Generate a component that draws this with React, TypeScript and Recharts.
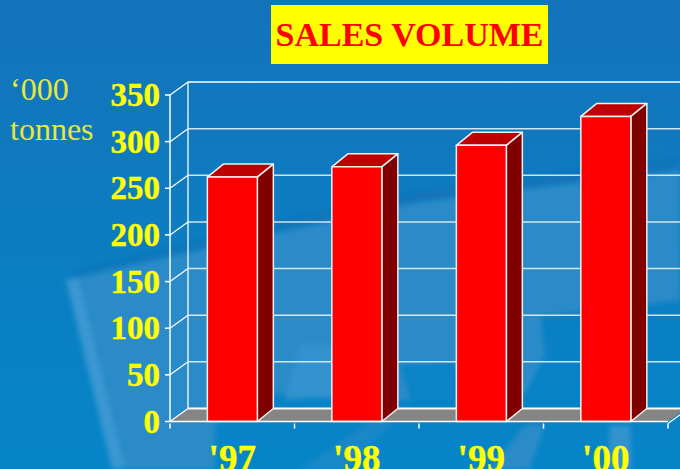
import { BarChart, Bar, XAxis, YAxis, CartesianGrid } from 'recharts';

const years = ["'97", "'98", "'99", "'00"];
const salesVolume = [262, 273, 296, 327];
const yTicks = [0, 50, 100, 150, 200, 250, 300, 350];

const data = years.map((year, i) => ({ year, sales: salesVolume[i] }));

// offset of the back wall from the front plane
const WALL_DX = 18;
const WALL_DY = -13;
// bars are a little less deep than the wall
const BAR_DX = 16;
const BAR_DY = -13;

const PLOT_LEFT = 170;
const PLOT_RIGHT = 668;
const PLOT_TOP = 95;
const PLOT_BOTTOM = 421.5;
const CATEGORY_STEP = (PLOT_RIGHT - PLOT_LEFT) / years.length;
const SERIF = '"Liberation Serif", serif';

function Box3D(props: any) {
  const { x, y, width, height } = props;
  const r = x + width;
  const b = y + height;
  return (
    <g stroke="#f0f0f0" strokeWidth={1.5} strokeLinejoin="round">
      <polygon points={`${x},${y} ${r},${y} ${r + BAR_DX},${y + BAR_DY} ${x + BAR_DX},${y + BAR_DY}`} fill="#bf0000" />
      <polygon points={`${r},${y} ${r + BAR_DX},${y + BAR_DY} ${r + BAR_DX},${b + BAR_DY} ${r},${b}`} fill="#800000" />
      <rect x={x} y={y} width={width} height={height} fill="#ff0000" />
    </g>
  );
}

// grid line also draws the wall: side diagonal + back line, and the floor at the bottom.
// done in the grid because axis ticks end up on top of the bars
function wallLine(props: any) {
  const { y1: y, key } = props;
  const backY = y + WALL_DY;
  const backL = PLOT_LEFT + WALL_DX;
  const backR = PLOT_RIGHT + WALL_DX;
  const isFloor = Math.abs(y - PLOT_BOTTOM) < 1;
  const isTop = Math.abs(y - PLOT_TOP) < 1;
  return (
    <g key={key}>
      {isFloor && (
        <polygon
          points={`${PLOT_LEFT},${y} ${backL},${backY} ${backR},${backY} ${PLOT_RIGHT},${y}`}
          fill="#858585"
        />
      )}
      <line x1={PLOT_LEFT} y1={y} x2={backL} y2={backY} stroke="#fff" strokeWidth={1.2} />
      <line x1={backL} y1={backY} x2={backR} y2={backY} stroke="#fff" strokeOpacity={isFloor || isTop ? 1 : 0.8} strokeWidth={isFloor ? 2 : 1.5} />
      {isTop && (
        <line x1={backL} y1={backY} x2={backL} y2={backY + (PLOT_BOTTOM - PLOT_TOP)} stroke="#fff" strokeOpacity={0.85} strokeWidth={1.5} />
      )}
    </g>
  );
}

function ValueTick(props: any) {
  const { y, payload } = props;
  return (
    <g>
      <line x1={PLOT_LEFT - 5} y1={y} x2={PLOT_LEFT} y2={y} stroke="#fff" strokeWidth={1.5} />
      <text x={PLOT_LEFT - 10} y={y + 11} textAnchor="end" fill="#ffff00" stroke="#ffff00" strokeWidth={0.4} fontFamily={SERIF} fontWeight="bold" fontSize={33}>
        {payload.value}
      </text>
    </g>
  );
}

// tick marks sit on the category boundaries, labels in the middle
function YearTick(props: any) {
  const { x, y, payload, index } = props;
  const left = x - CATEGORY_STEP / 2;
  const right = x + CATEGORY_STEP / 2;
  return (
    <g>
      <line x1={left} y1={y} x2={left} y2={y + 5} stroke="#fff" strokeWidth={1.5} />
      {index === years.length - 1 && (
        <>
          <line x1={right} y1={y} x2={right} y2={y + 5} stroke="#fff" strokeWidth={1.5} />
          <line x1={right} y1={y} x2={right + WALL_DX} y2={y + WALL_DY} stroke="#fff" strokeWidth={1.2} />
        </>
      )}
      <text x={x} y={y + 47} textAnchor="middle" fill="#ffff00" stroke="#ffff00" strokeWidth={0.4} fontFamily={SERIF} fontWeight="bold" fontSize={37}>
        {payload.value}
      </text>
    </g>
  );
}

function Backdrop() {
  return (
    <svg width={680} height={469} style={{ position: 'absolute', left: 0, top: 0 }}>
      <defs>
        <linearGradient id="bg" x1="0" y1="0" x2="0" y2="1">
          <stop offset="0" stopColor="#1373ba" />
          <stop offset="0.35" stopColor="#0f7abf" />
          <stop offset="1" stopColor="#0585c8" />
        </linearGradient>
        <filter id="soft">
          <feGaussianBlur stdDeviation="2.5" />
        </filter>
        <filter id="softer">
          <feGaussianBlur stdDeviation="5" />
        </filter>
      </defs>
      <rect width={680} height={469} fill="url(#bg)" />
      <polygon points="75,272 280,222 420,192 680,160 680,170 420,202 280,232 75,280" fill="#0d6cae" fillOpacity={0.55} filter="url(#softer)" />
      <g filter="url(#soft)">
        <polygon
          points="66,280 280,232 420,202 680,170 680,300 590,312 505,318 470,400 400,400 340,400 260,392 215,425 215,469 118,469"
          fill="#2a8bc8"
        />
        <polygon points="66,280 78,278 125,469 112,469" fill="#3a97d2" />
        <polygon points="300,345 340,345 340,395 285,400" fill="#3193ce" />
        <polygon points="400,365 455,362 470,400 410,400" fill="#0883c7" />
        <polygon points="515,318 540,310 545,355 525,395 505,375" fill="#2a8bc8" />
        <polygon points="380,415 410,405 345,469 300,469" fill="#2a8bc8" fillOpacity={0.6} />
        <polygon points="525,425 545,425 530,469 490,469" fill="#2a8bc8" />
        <polygon points="610,425 630,425 632,469 608,469" fill="#3193ce" />
      </g>
    </svg>
  );
}

export default function App() {
  return (
    <div style={{ position: 'fixed', left: 0, top: 0, width: 680, height: 469, overflow: 'hidden' }}>
      <Backdrop />
      <div
        style={{
          position: 'absolute', left: 271, top: 5, width: 277, height: 59,
          background: '#ffff00', color: '#ff0000', fontFamily: SERIF, fontWeight: 'bold',
          fontSize: 34, lineHeight: '59px', textAlign: 'center', whiteSpace: 'nowrap',
        }}
      >
        SALES VOLUME
      </div>
      <div style={{ position: 'absolute', left: 10, top: 71, color: '#e6e640', fontFamily: SERIF, fontSize: 32, lineHeight: '36px' }}>‘000</div>
      <div style={{ position: 'absolute', left: 10, top: 111, color: '#e6e640', fontFamily: SERIF, fontSize: 32, lineHeight: '36px' }}>tonnes</div>
      <div style={{ position: 'absolute', left: 0, top: 0 }}>
        <BarChart
          width={720}
          height={469}
          data={data}
          barCategoryGap="30%"
          margin={{ top: PLOT_TOP, right: 52, bottom: 0, left: 0 }}
        >
          <CartesianGrid horizontal={wallLine} vertical={false} />
          <YAxis
            type="number"
            domain={[0, 350]}
            ticks={yTicks}
            width={170}
            axisLine={{ stroke: '#fff', strokeWidth: 1.5 }}
            tickLine={false}
            tick={<ValueTick />}
            interval={0}
          />
          <XAxis
            dataKey="year"
            axisLine={{ stroke: '#fff', strokeWidth: 1.5 }}
            tickLine={false}
            tickSize={0}
            height={47.5}
            tick={<YearTick />}
            interval={0}
          />
          <Bar dataKey="sales" isAnimationActive={false} shape={<Box3D />} />
        </BarChart>
      </div>
    </div>
  );
}
